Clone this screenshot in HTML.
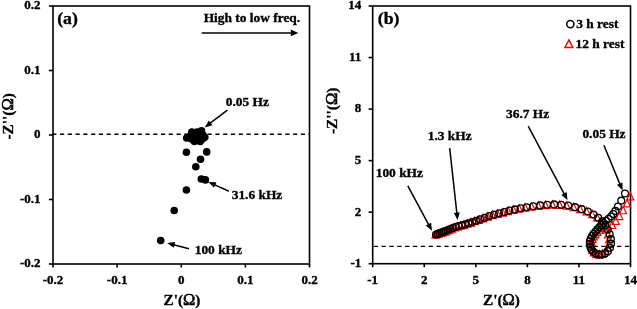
<!DOCTYPE html>
<html><head><meta charset="utf-8"><style>
html,body{margin:0;padding:0;background:#fff;width:637px;height:309px;overflow:hidden}
text{font-family:"Liberation Serif",serif;font-weight:bold;fill:#000;stroke:#000;stroke-width:0.35px}
text .om{font-weight:normal;stroke-width:0.6px;font-size:1.08em}
</style></head><body>
<svg width="637" height="309" viewBox="0 0 637 309" style="display:block;will-change:transform"><rect x="53" y="6" width="256.5" height="258" fill="none" stroke="#000" stroke-width="1.6"/>
<line x1="48.9" y1="6.00" x2="53" y2="6.00" stroke="#000" stroke-width="1.6"/>
<text transform="translate(40.60,9.40) scale(1,0.995)" font-size="13.0" text-anchor="end" >0.2</text>
<line x1="48.9" y1="70.50" x2="53" y2="70.50" stroke="#000" stroke-width="1.6"/>
<text transform="translate(40.60,73.90) scale(1,0.995)" font-size="13.0" text-anchor="end" >0.1</text>
<line x1="48.9" y1="135.00" x2="53" y2="135.00" stroke="#000" stroke-width="1.6"/>
<text transform="translate(40.60,138.40) scale(1,0.995)" font-size="13.0" text-anchor="end" >0</text>
<line x1="48.9" y1="199.50" x2="53" y2="199.50" stroke="#000" stroke-width="1.6"/>
<text transform="translate(40.60,202.90) scale(1,0.995)" font-size="13.0" text-anchor="end" >-0.1</text>
<line x1="48.9" y1="264.00" x2="53" y2="264.00" stroke="#000" stroke-width="1.6"/>
<text transform="translate(40.60,267.40) scale(1,0.995)" font-size="13.0" text-anchor="end" >-0.2</text>
<line x1="53.00" y1="264" x2="53.00" y2="267.5" stroke="#000" stroke-width="1.6"/>
<text transform="translate(53.00,283.90) scale(1,0.995)" font-size="13.0" text-anchor="middle" >-0.2</text>
<line x1="117.12" y1="264" x2="117.12" y2="267.5" stroke="#000" stroke-width="1.6"/>
<text transform="translate(117.12,283.90) scale(1,0.995)" font-size="13.0" text-anchor="middle" >-0.1</text>
<line x1="181.25" y1="264" x2="181.25" y2="267.5" stroke="#000" stroke-width="1.6"/>
<text transform="translate(181.25,283.90) scale(1,0.995)" font-size="13.0" text-anchor="middle" >0</text>
<line x1="245.38" y1="264" x2="245.38" y2="267.5" stroke="#000" stroke-width="1.6"/>
<text transform="translate(245.38,283.90) scale(1,0.995)" font-size="13.0" text-anchor="middle" >0.1</text>
<line x1="309.50" y1="264" x2="309.50" y2="267.5" stroke="#000" stroke-width="1.6"/>
<text transform="translate(309.50,283.90) scale(1,0.995)" font-size="13.0" text-anchor="middle" >0.2</text>
<line x1="52.2" y1="134.2" x2="309.5" y2="134.2" stroke="#000" stroke-width="1.4" stroke-dasharray="4.2 3.57"/>
<circle cx="186.4" cy="152.2" r="3.8" fill="#000"/>
<circle cx="206.7" cy="151.9" r="3.8" fill="#000"/>
<circle cx="200.5" cy="159.3" r="3.8" fill="#000"/>
<circle cx="195.8" cy="166.7" r="3.8" fill="#000"/>
<circle cx="201.3" cy="179" r="3.8" fill="#000"/>
<circle cx="205.4" cy="179.9" r="3.8" fill="#000"/>
<circle cx="186.4" cy="190" r="3.8" fill="#000"/>
<circle cx="174.2" cy="210.5" r="3.8" fill="#000"/>
<circle cx="160.7" cy="240.5" r="3.8" fill="#000"/>
<circle cx="191.8" cy="132.1" r="3.8" fill="#000"/>
<circle cx="201.5" cy="130.8" r="3.8" fill="#000"/>
<circle cx="186.7" cy="138" r="3.8" fill="#000"/>
<circle cx="204.8" cy="137.3" r="3.8" fill="#000"/>
<circle cx="194.4" cy="141.5" r="3.8" fill="#000"/>
<circle cx="200.2" cy="141.5" r="3.8" fill="#000"/>
<circle cx="197" cy="136" r="3.8" fill="#000"/>
<circle cx="190" cy="136" r="3.8" fill="#000"/>
<circle cx="203" cy="135" r="3.8" fill="#000"/>
<circle cx="197" cy="132" r="3.8" fill="#000"/>
<circle cx="194" cy="138" r="3.8" fill="#000"/>
<circle cx="200" cy="138" r="3.8" fill="#000"/>
<circle cx="197" cy="140" r="3.8" fill="#000"/>
<circle cx="191.5" cy="139" r="3.8" fill="#000"/>
<circle cx="202.5" cy="139" r="3.8" fill="#000"/>
<text transform="translate(57.20,24.10) scale(1,0.94)" font-size="17.8" text-anchor="start" >(a)</text>
<text transform="translate(203.70,22.00) scale(1,1.0)" font-size="13.4" text-anchor="start" >High to low freq.</text>
<line x1="201.70" y1="32.90" x2="291.80" y2="32.90" stroke="#000" stroke-width="1.5"/>
<polygon points="298.30,32.90 290.80,36.20 290.80,29.60" fill="#000"/>
<text transform="translate(225.70,106.10) scale(1,1.0)" font-size="13.4" text-anchor="start" >0.05 Hz</text>
<line x1="227.40" y1="110.10" x2="209.87" y2="123.46" stroke="#000" stroke-width="1.5"/>
<polygon points="204.70,127.40 208.85,120.47 212.48,125.24" fill="#000"/>
<text transform="translate(231.70,199.00) scale(1,1.0)" font-size="13.4" text-anchor="start" >31.6 kHz</text>
<line x1="228.90" y1="191.20" x2="214.33" y2="184.66" stroke="#000" stroke-width="1.5"/>
<polygon points="208.40,182.00 216.47,182.33 214.01,187.81" fill="#000"/>
<text transform="translate(194.70,253.70) scale(1,1.0)" font-size="13.4" text-anchor="start" >100 kHz</text>
<line x1="189.00" y1="248.80" x2="173.48" y2="244.67" stroke="#000" stroke-width="1.5"/>
<polygon points="167.20,243.00 175.22,242.03 173.68,247.83" fill="#000"/>
<text transform="translate(163.50,305.40) scale(1,0.99)" font-size="15.3" text-anchor="start" >Z'(<tspan class="om">Ω</tspan>)</text>
<text transform="translate(12.8,139.5) rotate(-90) scale(1,1.0)" font-size="15.3">-Z''(<tspan class="om">Ω</tspan>)</text>
<rect x="372.7" y="6" width="257.8" height="257.7" fill="none" stroke="#000" stroke-width="1.6"/>
<line x1="368.59999999999997" y1="6.00" x2="372.7" y2="6.00" stroke="#000" stroke-width="1.6"/>
<text transform="translate(361.20,9.40) scale(1,0.995)" font-size="13.0" text-anchor="end" >14</text>
<line x1="368.59999999999997" y1="57.54" x2="372.7" y2="57.54" stroke="#000" stroke-width="1.6"/>
<text transform="translate(361.20,60.94) scale(1,0.995)" font-size="13.0" text-anchor="end" >11</text>
<line x1="368.59999999999997" y1="109.08" x2="372.7" y2="109.08" stroke="#000" stroke-width="1.6"/>
<text transform="translate(361.20,112.48) scale(1,0.995)" font-size="13.0" text-anchor="end" >8</text>
<line x1="368.59999999999997" y1="160.62" x2="372.7" y2="160.62" stroke="#000" stroke-width="1.6"/>
<text transform="translate(361.20,164.02) scale(1,0.995)" font-size="13.0" text-anchor="end" >5</text>
<line x1="368.59999999999997" y1="212.16" x2="372.7" y2="212.16" stroke="#000" stroke-width="1.6"/>
<text transform="translate(361.20,215.56) scale(1,0.995)" font-size="13.0" text-anchor="end" >2</text>
<line x1="368.59999999999997" y1="263.70" x2="372.7" y2="263.70" stroke="#000" stroke-width="1.6"/>
<text transform="translate(361.20,267.10) scale(1,0.995)" font-size="13.0" text-anchor="end" >-1</text>
<line x1="372.70" y1="263.7" x2="372.70" y2="267.2" stroke="#000" stroke-width="1.6"/>
<text transform="translate(372.70,283.90) scale(1,0.995)" font-size="13.0" text-anchor="middle" >-1</text>
<line x1="424.26" y1="263.7" x2="424.26" y2="267.2" stroke="#000" stroke-width="1.6"/>
<text transform="translate(424.26,283.90) scale(1,0.995)" font-size="13.0" text-anchor="middle" >2</text>
<line x1="475.82" y1="263.7" x2="475.82" y2="267.2" stroke="#000" stroke-width="1.6"/>
<text transform="translate(475.82,283.90) scale(1,0.995)" font-size="13.0" text-anchor="middle" >5</text>
<line x1="527.38" y1="263.7" x2="527.38" y2="267.2" stroke="#000" stroke-width="1.6"/>
<text transform="translate(527.38,283.90) scale(1,0.995)" font-size="13.0" text-anchor="middle" >8</text>
<line x1="578.94" y1="263.7" x2="578.94" y2="267.2" stroke="#000" stroke-width="1.6"/>
<text transform="translate(578.94,283.90) scale(1,0.995)" font-size="13.0" text-anchor="middle" >11</text>
<line x1="630.50" y1="263.7" x2="630.50" y2="267.2" stroke="#000" stroke-width="1.6"/>
<text transform="translate(630.50,283.90) scale(1,0.995)" font-size="13.0" text-anchor="middle" >14</text>
<line x1="373.7" y1="246.4" x2="630.5" y2="246.4" stroke="#000" stroke-width="1.4" stroke-dasharray="4.3 3.55"/>
<polygon points="435.50,230.86 432.00,238.26 439.00,238.26" fill="none" stroke="#ff0000" stroke-width="1.2" stroke-linejoin="miter"/>
<polygon points="437.20,230.31 433.70,237.71 440.70,237.71" fill="none" stroke="#ff0000" stroke-width="1.2" stroke-linejoin="miter"/>
<polygon points="438.93,229.74 435.43,237.14 442.43,237.14" fill="none" stroke="#ff0000" stroke-width="1.2" stroke-linejoin="miter"/>
<polygon points="440.89,229.10 437.39,236.50 444.39,236.50" fill="none" stroke="#ff0000" stroke-width="1.2" stroke-linejoin="miter"/>
<polygon points="442.92,228.41 439.42,235.81 446.42,235.81" fill="none" stroke="#ff0000" stroke-width="1.2" stroke-linejoin="miter"/>
<polygon points="445.00,227.66 441.50,235.06 448.50,235.06" fill="none" stroke="#ff0000" stroke-width="1.2" stroke-linejoin="miter"/>
<polygon points="447.30,226.74 443.80,234.14 450.80,234.14" fill="none" stroke="#ff0000" stroke-width="1.2" stroke-linejoin="miter"/>
<polygon points="449.63,225.74 446.13,233.14 453.13,233.14" fill="none" stroke="#ff0000" stroke-width="1.2" stroke-linejoin="miter"/>
<polygon points="452.15,224.66 448.65,232.06 455.65,232.06" fill="none" stroke="#ff0000" stroke-width="1.2" stroke-linejoin="miter"/>
<polygon points="454.83,223.62 451.33,231.02 458.33,231.02" fill="none" stroke="#ff0000" stroke-width="1.2" stroke-linejoin="miter"/>
<polygon points="457.69,222.70 454.19,230.10 461.19,230.10" fill="none" stroke="#ff0000" stroke-width="1.2" stroke-linejoin="miter"/>
<polygon points="460.74,221.86 457.24,229.26 464.24,229.26" fill="none" stroke="#ff0000" stroke-width="1.2" stroke-linejoin="miter"/>
<polygon points="464.04,220.95 460.54,228.35 467.54,228.35" fill="none" stroke="#ff0000" stroke-width="1.2" stroke-linejoin="miter"/>
<polygon points="467.48,219.87 463.98,227.27 470.98,227.27" fill="none" stroke="#ff0000" stroke-width="1.2" stroke-linejoin="miter"/>
<polygon points="471.07,218.66 467.57,226.06 474.57,226.06" fill="none" stroke="#ff0000" stroke-width="1.2" stroke-linejoin="miter"/>
<polygon points="474.87,217.36 471.37,224.76 478.37,224.76" fill="none" stroke="#ff0000" stroke-width="1.2" stroke-linejoin="miter"/>
<polygon points="478.91,215.93 475.41,223.33 482.41,223.33" fill="none" stroke="#ff0000" stroke-width="1.2" stroke-linejoin="miter"/>
<polygon points="483.26,214.39 479.76,221.79 486.76,221.79" fill="none" stroke="#ff0000" stroke-width="1.2" stroke-linejoin="miter"/>
<polygon points="487.80,212.75 484.30,220.15 491.30,220.15" fill="none" stroke="#ff0000" stroke-width="1.2" stroke-linejoin="miter"/>
<polygon points="492.65,211.17 489.15,218.57 496.15,218.57" fill="none" stroke="#ff0000" stroke-width="1.2" stroke-linejoin="miter"/>
<polygon points="497.67,209.90 494.17,217.30 501.17,217.30" fill="none" stroke="#ff0000" stroke-width="1.2" stroke-linejoin="miter"/>
<polygon points="502.81,208.65 499.31,216.05 506.31,216.05" fill="none" stroke="#ff0000" stroke-width="1.2" stroke-linejoin="miter"/>
<polygon points="508.02,207.23 504.52,214.63 511.52,214.63" fill="none" stroke="#ff0000" stroke-width="1.2" stroke-linejoin="miter"/>
<polygon points="513.48,205.93 509.98,213.33 516.98,213.33" fill="none" stroke="#ff0000" stroke-width="1.2" stroke-linejoin="miter"/>
<polygon points="519.17,204.84 515.67,212.24 522.67,212.24" fill="none" stroke="#ff0000" stroke-width="1.2" stroke-linejoin="miter"/>
<polygon points="525.13,203.73 521.63,211.13 528.63,211.13" fill="none" stroke="#ff0000" stroke-width="1.2" stroke-linejoin="miter"/>
<polygon points="531.55,202.80 528.05,210.20 535.05,210.20" fill="none" stroke="#ff0000" stroke-width="1.2" stroke-linejoin="miter"/>
<polygon points="538.38,201.92 534.88,209.32 541.88,209.32" fill="none" stroke="#ff0000" stroke-width="1.2" stroke-linejoin="miter"/>
<polygon points="545.43,201.13 541.93,208.53 548.93,208.53" fill="none" stroke="#ff0000" stroke-width="1.2" stroke-linejoin="miter"/>
<polygon points="552.51,200.76 549.01,208.16 556.01,208.16" fill="none" stroke="#ff0000" stroke-width="1.2" stroke-linejoin="miter"/>
<polygon points="559.62,200.98 556.12,208.38 563.12,208.38" fill="none" stroke="#ff0000" stroke-width="1.2" stroke-linejoin="miter"/>
<polygon points="566.68,201.73 563.18,209.13 570.18,209.13" fill="none" stroke="#ff0000" stroke-width="1.2" stroke-linejoin="miter"/>
<polygon points="573.58,203.22 570.08,210.62 577.08,210.62" fill="none" stroke="#ff0000" stroke-width="1.2" stroke-linejoin="miter"/>
<polygon points="580.21,205.19 576.71,212.59 583.71,212.59" fill="none" stroke="#ff0000" stroke-width="1.2" stroke-linejoin="miter"/>
<polygon points="586.53,207.52 583.03,214.92 590.03,214.92" fill="none" stroke="#ff0000" stroke-width="1.2" stroke-linejoin="miter"/>
<polygon points="592.21,210.31 588.71,217.71 595.71,217.71" fill="none" stroke="#ff0000" stroke-width="1.2" stroke-linejoin="miter"/>
<polygon points="597.15,213.56 593.65,220.96 600.65,220.96" fill="none" stroke="#ff0000" stroke-width="1.2" stroke-linejoin="miter"/>
<polygon points="601.08,217.18 597.58,224.58 604.58,224.58" fill="none" stroke="#ff0000" stroke-width="1.2" stroke-linejoin="miter"/>
<polygon points="604.04,221.27 600.54,228.67 607.54,228.67" fill="none" stroke="#ff0000" stroke-width="1.2" stroke-linejoin="miter"/>
<polygon points="606.18,225.79 602.68,233.19 609.68,233.19" fill="none" stroke="#ff0000" stroke-width="1.2" stroke-linejoin="miter"/>
<polygon points="608.03,230.60 604.53,238.00 611.53,238.00" fill="none" stroke="#ff0000" stroke-width="1.2" stroke-linejoin="miter"/>
<polygon points="609.09,235.44 605.59,242.84 612.59,242.84" fill="none" stroke="#ff0000" stroke-width="1.2" stroke-linejoin="miter"/>
<polygon points="609.10,239.99 605.60,247.39 612.60,247.39" fill="none" stroke="#ff0000" stroke-width="1.2" stroke-linejoin="miter"/>
<polygon points="607.80,244.14 604.30,251.54 611.30,251.54" fill="none" stroke="#ff0000" stroke-width="1.2" stroke-linejoin="miter"/>
<polygon points="605.63,247.47 602.13,254.87 609.13,254.87" fill="none" stroke="#ff0000" stroke-width="1.2" stroke-linejoin="miter"/>
<polygon points="602.62,249.74 599.12,257.14 606.12,257.14" fill="none" stroke="#ff0000" stroke-width="1.2" stroke-linejoin="miter"/>
<polygon points="599.36,250.70 595.86,258.10 602.86,258.10" fill="none" stroke="#ff0000" stroke-width="1.2" stroke-linejoin="miter"/>
<polygon points="596.29,250.19 592.79,257.59 599.79,257.59" fill="none" stroke="#ff0000" stroke-width="1.2" stroke-linejoin="miter"/>
<polygon points="593.84,248.55 590.34,255.95 597.34,255.95" fill="none" stroke="#ff0000" stroke-width="1.2" stroke-linejoin="miter"/>
<polygon points="592.36,246.09 588.86,253.49 595.86,253.49" fill="none" stroke="#ff0000" stroke-width="1.2" stroke-linejoin="miter"/>
<polygon points="591.60,243.36 588.10,250.76 595.10,250.76" fill="none" stroke="#ff0000" stroke-width="1.2" stroke-linejoin="miter"/>
<polygon points="591.32,240.57 587.82,247.97 594.82,247.97" fill="none" stroke="#ff0000" stroke-width="1.2" stroke-linejoin="miter"/>
<polygon points="591.57,237.72 588.07,245.12 595.07,245.12" fill="none" stroke="#ff0000" stroke-width="1.2" stroke-linejoin="miter"/>
<polygon points="592.56,235.02 589.06,242.42 596.06,242.42" fill="none" stroke="#ff0000" stroke-width="1.2" stroke-linejoin="miter"/>
<polygon points="593.90,232.55 590.40,239.95 597.40,239.95" fill="none" stroke="#ff0000" stroke-width="1.2" stroke-linejoin="miter"/>
<polygon points="595.42,230.17 591.92,237.57 598.92,237.57" fill="none" stroke="#ff0000" stroke-width="1.2" stroke-linejoin="miter"/>
<polygon points="597.23,227.90 593.73,235.30 600.73,235.30" fill="none" stroke="#ff0000" stroke-width="1.2" stroke-linejoin="miter"/>
<polygon points="599.23,225.86 595.73,233.26 602.73,233.26" fill="none" stroke="#ff0000" stroke-width="1.2" stroke-linejoin="miter"/>
<polygon points="601.37,224.10 597.87,231.50 604.87,231.50" fill="none" stroke="#ff0000" stroke-width="1.2" stroke-linejoin="miter"/>
<polygon points="603.91,222.66 600.41,230.06 607.41,230.06" fill="none" stroke="#ff0000" stroke-width="1.2" stroke-linejoin="miter"/>
<polygon points="607.44,222.01 603.94,229.41 610.94,229.41" fill="none" stroke="#ff0000" stroke-width="1.2" stroke-linejoin="miter"/>
<polygon points="612.13,221.09 608.63,228.49 615.63,228.49" fill="none" stroke="#ff0000" stroke-width="1.2" stroke-linejoin="miter"/>
<polygon points="615.82,216.98 612.32,224.38 619.32,224.38" fill="none" stroke="#ff0000" stroke-width="1.2" stroke-linejoin="miter"/>
<polygon points="619.38,212.13 615.88,219.53 622.88,219.53" fill="none" stroke="#ff0000" stroke-width="1.2" stroke-linejoin="miter"/>
<polygon points="623.06,206.36 619.56,213.76 626.56,213.76" fill="none" stroke="#ff0000" stroke-width="1.2" stroke-linejoin="miter"/>
<polygon points="627.08,199.51 623.58,206.91 630.58,206.91" fill="none" stroke="#ff0000" stroke-width="1.2" stroke-linejoin="miter"/>
<polygon points="630.30,192.46 626.80,199.86 633.80,199.86" fill="none" stroke="#ff0000" stroke-width="1.2" stroke-linejoin="miter"/>
<circle cx="436.00" cy="234.50" r="3.4" fill="none" stroke="#000" stroke-width="1.3"/>
<circle cx="437.73" cy="233.90" r="3.4" fill="none" stroke="#000" stroke-width="1.3"/>
<circle cx="439.54" cy="233.28" r="3.4" fill="none" stroke="#000" stroke-width="1.3"/>
<circle cx="441.42" cy="232.62" r="3.4" fill="none" stroke="#000" stroke-width="1.3"/>
<circle cx="443.51" cy="231.86" r="3.4" fill="none" stroke="#000" stroke-width="1.3"/>
<circle cx="445.64" cy="231.05" r="3.4" fill="none" stroke="#000" stroke-width="1.3"/>
<circle cx="447.93" cy="230.07" r="3.4" fill="none" stroke="#000" stroke-width="1.3"/>
<circle cx="450.28" cy="229.03" r="3.4" fill="none" stroke="#000" stroke-width="1.3"/>
<circle cx="452.81" cy="227.94" r="3.4" fill="none" stroke="#000" stroke-width="1.3"/>
<circle cx="455.50" cy="226.93" r="3.4" fill="none" stroke="#000" stroke-width="1.3"/>
<circle cx="458.52" cy="226.02" r="3.4" fill="none" stroke="#000" stroke-width="1.3"/>
<circle cx="461.71" cy="225.20" r="3.4" fill="none" stroke="#000" stroke-width="1.3"/>
<circle cx="465.00" cy="224.30" r="3.4" fill="none" stroke="#000" stroke-width="1.3"/>
<circle cx="468.52" cy="223.21" r="3.4" fill="none" stroke="#000" stroke-width="1.3"/>
<circle cx="472.12" cy="222.05" r="3.4" fill="none" stroke="#000" stroke-width="1.3"/>
<circle cx="476.01" cy="220.75" r="3.4" fill="none" stroke="#000" stroke-width="1.3"/>
<circle cx="480.09" cy="219.32" r="3.4" fill="none" stroke="#000" stroke-width="1.3"/>
<circle cx="484.54" cy="217.76" r="3.4" fill="none" stroke="#000" stroke-width="1.3"/>
<circle cx="489.19" cy="216.11" r="3.4" fill="none" stroke="#000" stroke-width="1.3"/>
<circle cx="494.05" cy="214.58" r="3.4" fill="none" stroke="#000" stroke-width="1.3"/>
<circle cx="499.06" cy="213.30" r="3.4" fill="none" stroke="#000" stroke-width="1.3"/>
<circle cx="504.24" cy="211.99" r="3.4" fill="none" stroke="#000" stroke-width="1.3"/>
<circle cx="509.41" cy="210.62" r="3.4" fill="none" stroke="#000" stroke-width="1.3"/>
<circle cx="514.85" cy="209.39" r="3.4" fill="none" stroke="#000" stroke-width="1.3"/>
<circle cx="520.58" cy="208.31" r="3.4" fill="none" stroke="#000" stroke-width="1.3"/>
<circle cx="526.60" cy="207.21" r="3.4" fill="none" stroke="#000" stroke-width="1.3"/>
<circle cx="533.24" cy="206.28" r="3.4" fill="none" stroke="#000" stroke-width="1.3"/>
<circle cx="540.10" cy="205.41" r="3.4" fill="none" stroke="#000" stroke-width="1.3"/>
<circle cx="547.08" cy="204.68" r="3.4" fill="none" stroke="#000" stroke-width="1.3"/>
<circle cx="554.16" cy="204.39" r="3.4" fill="none" stroke="#000" stroke-width="1.3"/>
<circle cx="561.21" cy="204.70" r="3.4" fill="none" stroke="#000" stroke-width="1.3"/>
<circle cx="568.18" cy="205.53" r="3.4" fill="none" stroke="#000" stroke-width="1.3"/>
<circle cx="575.07" cy="207.13" r="3.4" fill="none" stroke="#000" stroke-width="1.3"/>
<circle cx="581.65" cy="209.14" r="3.4" fill="none" stroke="#000" stroke-width="1.3"/>
<circle cx="587.89" cy="211.53" r="3.4" fill="none" stroke="#000" stroke-width="1.3"/>
<circle cx="593.53" cy="214.43" r="3.4" fill="none" stroke="#000" stroke-width="1.3"/>
<circle cx="598.30" cy="217.75" r="3.4" fill="none" stroke="#000" stroke-width="1.3"/>
<circle cx="602.24" cy="221.28" r="3.4" fill="none" stroke="#000" stroke-width="1.3"/>
<circle cx="605.39" cy="225.14" r="3.4" fill="none" stroke="#000" stroke-width="1.3"/>
<circle cx="607.70" cy="229.58" r="3.4" fill="none" stroke="#000" stroke-width="1.3"/>
<circle cx="609.70" cy="234.32" r="3.4" fill="none" stroke="#000" stroke-width="1.3"/>
<circle cx="610.91" cy="239.13" r="3.4" fill="none" stroke="#000" stroke-width="1.3"/>
<circle cx="611.05" cy="243.66" r="3.4" fill="none" stroke="#000" stroke-width="1.3"/>
<circle cx="610.00" cy="247.79" r="3.4" fill="none" stroke="#000" stroke-width="1.3"/>
<circle cx="607.92" cy="251.17" r="3.4" fill="none" stroke="#000" stroke-width="1.3"/>
<circle cx="605.02" cy="253.45" r="3.4" fill="none" stroke="#000" stroke-width="1.3"/>
<circle cx="601.74" cy="254.54" r="3.4" fill="none" stroke="#000" stroke-width="1.3"/>
<circle cx="598.59" cy="254.41" r="3.4" fill="none" stroke="#000" stroke-width="1.3"/>
<circle cx="595.73" cy="253.44" r="3.4" fill="none" stroke="#000" stroke-width="1.3"/>
<circle cx="593.36" cy="251.75" r="3.4" fill="none" stroke="#000" stroke-width="1.3"/>
<circle cx="591.56" cy="249.59" r="3.4" fill="none" stroke="#000" stroke-width="1.3"/>
<circle cx="590.39" cy="246.99" r="3.4" fill="none" stroke="#000" stroke-width="1.3"/>
<circle cx="589.77" cy="244.16" r="3.4" fill="none" stroke="#000" stroke-width="1.3"/>
<circle cx="589.84" cy="241.26" r="3.4" fill="none" stroke="#000" stroke-width="1.3"/>
<circle cx="590.72" cy="238.50" r="3.4" fill="none" stroke="#000" stroke-width="1.3"/>
<circle cx="592.00" cy="236.00" r="3.4" fill="none" stroke="#000" stroke-width="1.3"/>
<circle cx="593.64" cy="233.70" r="3.4" fill="none" stroke="#000" stroke-width="1.3"/>
<circle cx="595.56" cy="231.55" r="3.4" fill="none" stroke="#000" stroke-width="1.3"/>
<circle cx="597.46" cy="229.38" r="3.4" fill="none" stroke="#000" stroke-width="1.3"/>
<circle cx="599.37" cy="227.23" r="3.4" fill="none" stroke="#000" stroke-width="1.3"/>
<circle cx="601.33" cy="225.16" r="3.4" fill="none" stroke="#000" stroke-width="1.3"/>
<circle cx="603.55" cy="223.02" r="3.4" fill="none" stroke="#000" stroke-width="1.3"/>
<circle cx="605.96" cy="220.80" r="3.4" fill="none" stroke="#000" stroke-width="1.3"/>
<circle cx="608.48" cy="218.70" r="3.4" fill="none" stroke="#000" stroke-width="1.3"/>
<circle cx="611.06" cy="216.54" r="3.4" fill="none" stroke="#000" stroke-width="1.3"/>
<circle cx="613.31" cy="214.05" r="3.4" fill="none" stroke="#000" stroke-width="1.3"/>
<circle cx="615.41" cy="210.91" r="3.4" fill="none" stroke="#000" stroke-width="1.3"/>
<circle cx="617.93" cy="206.51" r="3.4" fill="none" stroke="#000" stroke-width="1.3"/>
<circle cx="621.26" cy="200.65" r="3.4" fill="none" stroke="#000" stroke-width="1.3"/>
<circle cx="625.00" cy="193.50" r="3.4" fill="none" stroke="#000" stroke-width="1.3"/>
<text transform="translate(377.80,23.70) scale(1,0.94)" font-size="17.8" text-anchor="start" >(b)</text>
<text transform="translate(375.70,176.70) scale(1,1.0)" font-size="13.4" text-anchor="start" >100 kHz</text>
<line x1="407.80" y1="185.80" x2="428.92" y2="225.08" stroke="#000" stroke-width="1.5"/>
<polygon points="432.00,230.80 425.81,225.62 431.09,222.77" fill="#000"/>
<text transform="translate(427.70,140.40) scale(1,1.0)" font-size="13.4" text-anchor="start" >1.3 kHz</text>
<line x1="449.70" y1="148.10" x2="456.89" y2="213.64" stroke="#000" stroke-width="1.5"/>
<polygon points="457.60,220.10 453.80,212.97 459.76,212.32" fill="#000"/>
<text transform="translate(506.00,118.30) scale(1,1.0)" font-size="13.4" text-anchor="start" >36.7 Hz</text>
<line x1="528.20" y1="126.10" x2="564.45" y2="194.36" stroke="#000" stroke-width="1.5"/>
<polygon points="567.50,200.10 561.33,194.88 566.63,192.07" fill="#000"/>
<text transform="translate(582.40,137.90) scale(1,1.0)" font-size="13.4" text-anchor="start" >0.05 Hz</text>
<line x1="603.90" y1="145.30" x2="620.12" y2="184.59" stroke="#000" stroke-width="1.5"/>
<polygon points="622.60,190.60 616.97,184.81 622.51,182.52" fill="#000"/>
<circle cx="570.3" cy="24.1" r="3.6" fill="none" stroke="#000" stroke-width="1.5"/>
<polygon points="568.9,40.0 565.0,47.5 572.8,47.5" fill="none" stroke="#ff0000" stroke-width="1.5"/>
<text transform="translate(576.20,28.20) scale(1,1.0)" font-size="13.4" text-anchor="start" >3 h rest</text>
<text transform="translate(575.50,48.20) scale(1,1.0)" font-size="13.4" text-anchor="start" >12 h rest</text>
<text transform="translate(483.00,305.40) scale(1,0.99)" font-size="15.3" text-anchor="start" >Z'(<tspan class="om">Ω</tspan>)</text>
<text transform="translate(336.8,134) rotate(-90) scale(1,1.0)" font-size="15.3">-Z''(<tspan class="om">Ω</tspan>)</text></svg>
</body></html>
